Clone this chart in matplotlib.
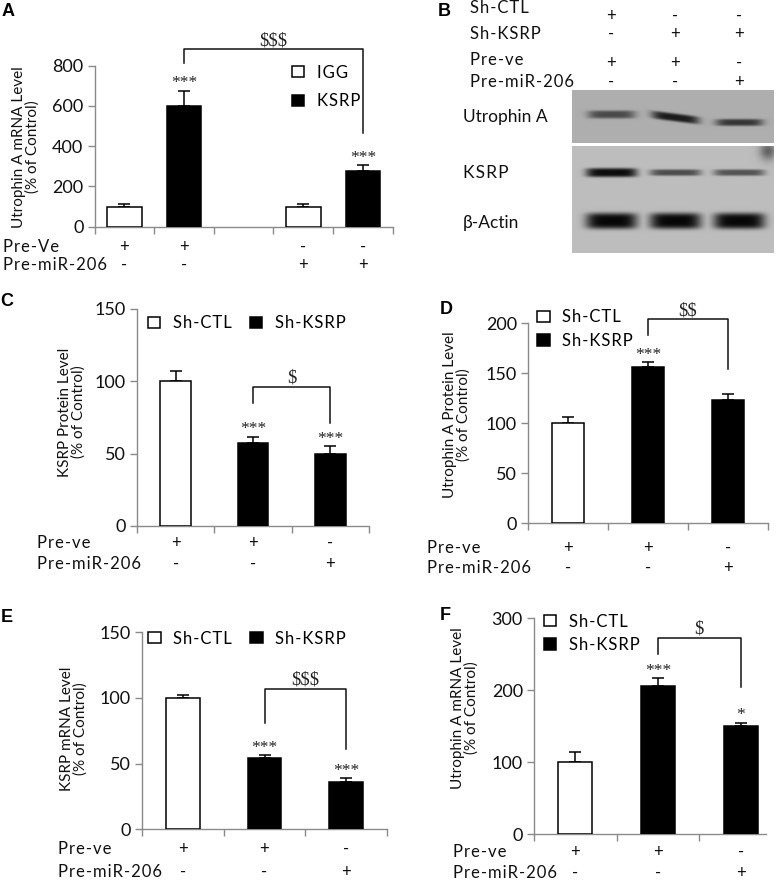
import numpy as np
import matplotlib
matplotlib.use('Agg')
import matplotlib.pyplot as plt
from matplotlib import transforms

# ---------------- data ----------------
# Panel A
A_series = ['IGG', 'KSRP', 'IGG', 'KSRP']
A_group = [0, 0, 1, 1]
A_pre_ve = ['+', '+', '-', '-']
A_pre_mir = ['-', '-', '+', '+']
A_values = [100, 600, 100, 275]
A_errors = [15, 75, 12, 30]
A_stars = ['', '***', '', '***']
A_compare = (1, 3, '$$$')

# Panels C-F
CF_series = ['Sh-CTL', 'Sh-KSRP', 'Sh-KSRP']
CF_pre_ve = ['+', '+', '-']
CF_pre_mir = ['-', '-', '+']
C_values = [100, 57.5, 49.5]
C_errors = [7, 4, 5.5]
C_stars = ['', '***', '***']
C_compare = (1, 2, '$')
D_values = [100, 156.5, 123]
D_errors = [6.5, 4.5, 6.5]
D_stars = ['', '***', '']
D_compare = (1, 2, '$$')
E_values = [100, 54.5, 36]
E_errors = [2.5, 2, 3]
E_stars = ['', '***', '***']
E_compare = (1, 2, '$$$')
F_values = [100, 206, 151]
F_errors = [14, 11, 4]
F_stars = ['', '***', '*']
F_compare = (1, 2, '$')

# Panel B (western blot)
B_sh_ctl = ['+', '-', '-']
B_sh_ksrp = ['-', '+', '+']
B_pre_ve = ['+', '+', '-']
B_pre_mir = ['-', '-', '+']
B_proteins = ['Utrophin A', 'KSRP', 'β-Actin']
B_utrophin = [0.6, 0.88, 0.72]
B_ksrp = [0.97, 0.62, 0.58]
B_actin = [1.0, 1.0, 1.0]

COLORS = {'IGG': 'white', 'KSRP': 'black', 'Sh-CTL': 'white', 'Sh-KSRP': 'black'}

# ---------------- style ----------------
plt.rcParams['font.family'] = ['Lato', 'DejaVu Sans']
SERIF = ['Liberation Serif', 'DejaVu Serif']
BOLD = ['Liberation Sans', 'DejaVu Sans']
GRAY = '#8a8a8a'
TXT = '#111111'
HS = '\u200a'


def sp(s):
    """letter-spaced text (the figure uses tracked lettering)"""
    return HS.join(s)


W, H = 777, 881
fig = plt.figure(figsize=(W / 100, H / 100), dpi=100)


def px_axes(x0, y0, x1, y1):
    return fig.add_axes([x0 / W, 1 - y1 / H, (x1 - x0) / W, (y1 - y0) / H])


def ftext(x, y, s, **kw):
    return fig.text(x / W, 1 - y / H, s, **kw)


def bar_panel(box, pos, series, values, errors, stars, compare, xlim, ylim, yticks,
              width, bracket, leg_anchor, leg_ncol, leg_spacing, ylabel, ylab_xy,
              row_x, row_y, pre_ve, pre_mir, letter, letter_xy):
    ax = px_axes(*box)
    pos = np.asarray(pos, float)
    values = np.asarray(values, float)
    errors = np.asarray(errors, float)
    for name in dict.fromkeys(series):
        m = np.array([s == name for s in series])
        ax.bar(pos[m], values[m], width=width, color=COLORS[name], edgecolor='black',
               linewidth=1.1, label=sp(name), zorder=3)
    ax.errorbar(pos, values, yerr=[np.zeros_like(errors), errors], fmt='none',
                ecolor='black', elinewidth=1.1, capsize=4.5, capthick=1.1, zorder=2)
    ax.set_xlim(*xlim)
    ax.set_ylim(*ylim)
    ax.set_yticks(yticks)
    ax.set_xticks(np.arange(xlim[0], xlim[1] + 0.01, 1.0))
    ax.tick_params(axis='x', labelbottom=False, length=5, color=GRAY, width=1)
    ax.tick_params(axis='y', length=5, color=GRAY, width=1, labelsize=13, pad=3,
                   labelcolor=TXT)
    for s in ['top', 'right']:
        ax.spines[s].set_visible(False)
    for s in ['left', 'bottom']:
        ax.spines[s].set_color(GRAY)
        ax.spines[s].set_linewidth(1.0)
    ax.patch.set_alpha(0)

    for i, s in enumerate(stars):
        if s:
            ax.annotate(s, xy=(pos[i], values[i] + errors[i]), xytext=(0, 2.5),
                        textcoords='offset points', ha='center', va='baseline',
                        fontfamily=SERIF, fontsize=12.5, color='#222222',
                        annotation_clip=False)
    i, j, lab = compare
    lb, top, rb = bracket
    ax.plot([pos[i], pos[i], pos[j], pos[j]], [lb, top, top, rb], color=TXT,
            lw=1.1, clip_on=False, zorder=4)
    ax.annotate(lab, xy=((pos[i] + pos[j]) / 2, top), xytext=(0, 3),
                textcoords='offset points', ha='center', va='baseline',
                fontfamily=SERIF, fontsize=13.5, color='#222222', annotation_clip=False,
                parse_math=False)

    ax.legend(loc='upper left', bbox_to_anchor=leg_anchor, frameon=False, ncol=leg_ncol,
              handlelength=0.75, handleheight=0.65, handletextpad=0.75, columnspacing=1.1,
              labelspacing=leg_spacing, borderpad=0, borderaxespad=0, fontsize=12)

    ftext(ylab_xy[0], ylab_xy[1], ylabel, rotation=90, ha='center', va='center',
          fontsize=11, linespacing=1.0, color=TXT)

    trans = transforms.blended_transform_factory(ax.transData, fig.transFigure)
    for name, signs, y in zip(['Pre-ve' if letter != 'A' else 'Pre-Ve', 'Pre-miR-206'],
                              [pre_ve, pre_mir], row_y):
        ftext(row_x, y, sp(name), ha='left', va='center', fontsize=12, color=TXT)
        for p, sg in zip(pos, signs):
            ax.text(p, 1 - y / H, sg, transform=trans, ha='center', va='center',
                    fontsize=12, color=TXT)
    ftext(letter_xy[0], letter_xy[1], letter, ha='center', va='center',
          fontfamily=BOLD, fontweight='bold', fontsize=13)
    return ax


# ---------------- panel A ----------------
A_pos = [g * 3 + (0 if s == 'IGG' else 1) for g, s in zip(A_group, A_series)]
bar_panel((94.5, 65.7, 392.7, 226.7), A_pos, A_series, A_values, A_errors, A_stars,
          A_compare, (-0.5, 4.5), (0, 800), [0, 200, 400, 600, 800], 0.58,
          (812, 881, 466), (0.662, 1.007), 1, 0.75,
          'Utrophin A mRNA Level\n(% of Control)', (26, 147),
          3, (247, 265), A_pre_ve, A_pre_mir, 'A', (8, 12))

CF_pos = list(range(len(CF_series)))
# ---------------- panel C ----------------
bar_panel((137, 308.7, 369, 526), CF_pos, CF_series, C_values, C_errors, C_stars,
          C_compare, (-0.5, 2.5), (0, 150), [0, 50, 100, 150], 0.40,
          (85, 96.2, 71), (0.047, 0.969), 2, 0.5,
          'KSRP Protein Level\n(% of Control)', (72, 412),
          37, (543, 564), CF_pre_ve, CF_pre_mir, 'C', (7, 302))
# ---------------- panel D ----------------
bar_panel((528, 323.3, 768, 523.3), CF_pos, CF_series, D_values, D_errors, D_stars,
          D_compare, (-0.5, 2.5), (0, 200), [0, 50, 100, 150, 200], 0.40,
          (188, 204, 154), (0.0375, 1.069), 1, 0.44,
          'Utrophin A Protein Level\n(% of Control)', (457, 415),
          427, (548, 568), CF_pre_ve, CF_pre_mir, 'D', (446, 309))
# ---------------- panel E ----------------
bar_panel((142, 632.3, 387, 829.3), CF_pos, CF_series, E_values, E_errors, E_stars,
          E_compare, (-0.5, 2.5), (0, 150), [0, 50, 100, 150], 0.41,
          (80.7, 107, 60.9), (0.0245, 1.009), 2, 0.5,
          'KSRP mRNA Level\n(% of Control)', (74, 729),
          58, (849, 872), CF_pre_ve, CF_pre_mir, 'E', (7, 618))
# ---------------- panel F ----------------
bar_panel((534, 618.3, 765.5, 834.3), CF_pos, CF_series, F_values, F_errors, F_stars,
          F_compare, (-0.5, 2.3), (0, 300), [0, 100, 200, 300], 0.41,
          (251, 273, 205), (0.043, 1.022), 1, 0.44,
          'Utrophin A mRNA Level\n(% of Control)', (465, 708),
          453, (852, 873), CF_pre_ve, CF_pre_mir, 'F', (445, 616))

# ---------------- panel B: blot ----------------
LANE_L, LANE_R = -0.617, 2.54   # lane-index extent of the blot images


def blot(box, h, bg, bands, blobs=()):
    ax = px_axes(*box)
    nx = int((box[2] - box[0]) * 3)
    ny = int(h * 3)
    xs = np.linspace(LANE_L, LANE_R, nx)
    ys = np.linspace(0, h, ny)
    xx, yy = np.meshgrid(xs, ys)
    dark = np.zeros_like(xx)
    for lane, yc, thick, inten, tilt, bw, pw in bands:
        u = (xx - lane) / (bw / 2)
        yshift = yc + tilt * u
        f = np.exp(-np.abs(u) ** pw)
        g = np.exp(-np.abs((yy - yshift) / (thick / 2)) ** 4)
        dark = np.maximum(dark, inten * f * g)
    for bx, by, sx, sy, inten in blobs:
        dark = np.maximum(dark, inten * np.exp(-((xx - bx) / sx) ** 2 - ((yy - by) / sy) ** 2))
    img = bg * (1 - 0.96 * dark)
    ax.imshow(img, cmap='gray', vmin=0, vmax=1, aspect='auto', interpolation='bilinear',
              extent=(LANE_L, LANE_R, h, 0))
    ax.set_xlim(LANE_L, LANE_R)
    ax.axis('off')
    return ax


up_bands = []
for k, v in enumerate(B_utrophin):
    up_bands.append((k, [24.5, 27.5, 32.5][k], [8, 8, 7][k], v, [0, 3, 0][k], 0.74, 5))
ax_up = blot((572, 90, 774, 143), 53, 0.68, up_bands)

low_bands = []
for k, v in enumerate(B_ksrp):
    low_bands.append((k, 26.5, [9, 6.5, 6.5][k], v, 0, 0.8, 6))
for k, v in enumerate(B_actin):
    low_bands.append((k, 75, 16, v, 0, 0.8, 5))
ax_low = blot((572, 146, 774, 253), 107, 0.74, low_bands,
              blobs=[(2.45, 5, 0.13, 9, 0.5)])

# blot labels
for name, y in zip(B_proteins, [117, 173, 223]):
    ftext(463, y, sp(name) if name == 'KSRP' else name, ha='left', va='center',
          fontsize=12.5, color=TXT)

trans_b = transforms.blended_transform_factory(ax_up.transData, fig.transFigure)
for name, signs, ylab, ysig in zip(['Sh-CTL', 'Sh-KSRP', 'Pre-ve', 'Pre-miR-206'],
                                   [B_sh_ctl, B_sh_ksrp, B_pre_ve, B_pre_mir],
                                   [8, 34, 60, 82], [16, 34, 63, 82]):
    ftext(470, ylab, sp(name), ha='left', va='center', fontsize=12, color=TXT)
    for k, sg in enumerate(signs):
        ax_up.text(k, 1 - ysig / H, sg, transform=trans_b, ha='center', va='center',
                   fontsize=12, color=TXT)
ftext(444, 11, 'B', ha='center', va='center', fontfamily=BOLD, fontweight='bold',
      fontsize=13)

fig.savefig('out.png', dpi=100)
